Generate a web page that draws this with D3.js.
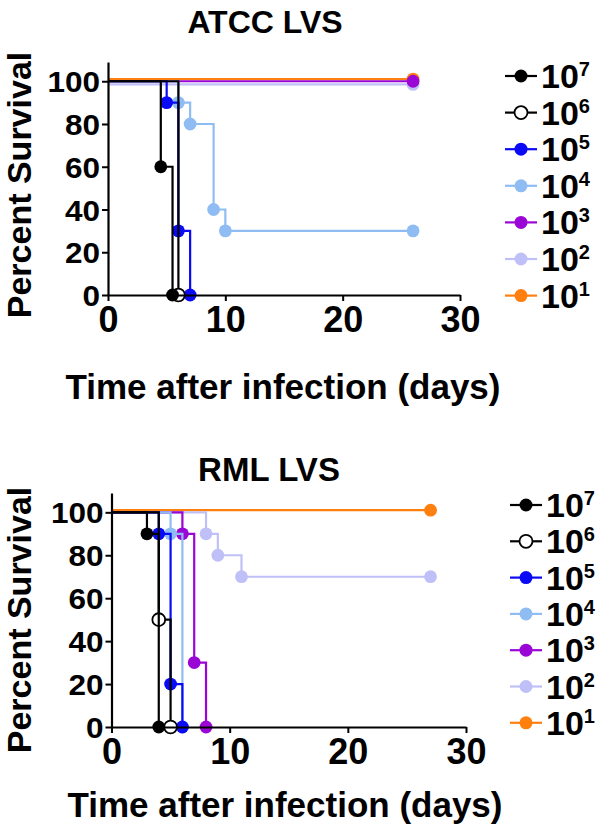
<!DOCTYPE html>
<html>
<head>
<meta charset="utf-8">
<script src="https://cdn.jsdelivr.net/npm/d3@7"></script>
<style>
  html, body { margin: 0; padding: 0; background: #fff; }
  svg { display: block; }
  text { font-family: "Liberation Sans", Arial, Helvetica, sans-serif; font-weight: bold; fill: #000; }
</style>
</head>
<body>
<svg id="chart" width="600" height="830"></svg>
<script>
// ---- Data ----
const doseExponents = ["7", "6", "5", "4", "3", "2", "1"];
const seriesColors = ["#000000", "#000000", "#0a0af5", "#8fbdf3", "#9a06d6", "#c0c0f8", "#ff7f0f"];
const seriesOpen = [false, true, false, false, false, false, false];

const xTicks = [0, 10, 20, 30];
const yTicks = [0, 20, 40, 60, 80, 100];

// ATCC LVS: [day, percent survival] steps
const atcc7 = [[0, 100], [4.5, 60], [5.5, 0]];
const atcc6 = [[0, 100], [6, 0]];
const atcc5 = [[0, 100], [5, 90], [6, 30], [7, 0]];
const atcc4 = [[0, 100], [6, 90], [7, 80], [9, 40], [10, 30], [26, 30]];
const atcc3 = [[0, 100], [26, 100]];
const atcc2 = [[0, 98.5], [26, 98.5]];
const atcc1 = [[0, 101], [26, 101]];

// RML LVS
const rml7 = [[0, 100], [3, 90], [4, 0]];
const rml6 = [[0, 100], [4, 50], [5, 0]];
const rml5 = [[0, 100], [4, 90], [5, 20], [6, 0]];
const rml4 = [[0, 100], [5, 90], [6, 0]];
const rml3 = [[0, 100], [6, 90], [7, 30], [8, 0]];
const rml2 = [[0, 100], [8, 90], [9, 80], [11, 70], [27, 70]];
const rml1 = [[0, 101], [27, 101]];

const atccSeries = [atcc7, atcc6, atcc5, atcc4, atcc3, atcc2, atcc1];
const rmlSeries = [rml7, rml6, rml5, rml4, rml3, rml2, rml1];

const svg = d3.select("#chart");

function drawPanel(cfg) {
  const g = svg.append("g");
  const x = d3.scaleLinear().domain([0, 30]).range([cfg.x0, cfg.x1]);
  const y = d3.scaleLinear().domain([0, 109]).range([cfg.yBottom, cfg.yTop]);

  // title
  g.append("text").attr("x", cfg.titleX).attr("y", cfg.titleY)
    .attr("text-anchor", "middle").style("font-size", cfg.titleSize + "px").text(cfg.title);

  // series (reverse order so 10^7 is on top)
  const line = d3.line().x(d => x(d[0])).y(d => y(d[1])).curve(d3.curveStepAfter);
  for (let i = cfg.series.length - 1; i >= 0; i--) {
    const s = cfg.series[i];
    g.append("path").attr("d", line(s)).attr("fill", "none")
      .attr("stroke", seriesColors[i]).attr("stroke-width", 2.2);
    g.selectAll(null).data(s.slice(1)).enter().append("circle")
      .attr("cx", d => x(d[0])).attr("cy", d => y(d[1])).attr("r", 6.4)
      .attr("fill", seriesOpen[i] ? "#fff" : seriesColors[i])
      .attr("stroke", seriesColors[i]).attr("stroke-width", seriesOpen[i] ? 1.8 : 0);
  }

  // axes
  const xAxis = g.append("g").attr("transform", `translate(0,${cfg.yBottom})`)
    .call(d3.axisBottom(x).tickValues(xTicks).tickSize(6).tickSizeOuter(0).tickPadding(5));
  xAxis.select(".domain").attr("stroke-width", 2.2);
  xAxis.selectAll(".tick line").attr("stroke-width", 2);
  xAxis.selectAll("text").style("font-size", "36px").attr("font-family", null);

  const yAxis = g.append("g").attr("transform", `translate(${cfg.x0},0)`)
    .call(d3.axisLeft(y).tickValues(yTicks).tickSize(6).tickSizeOuter(0).tickPadding(2));
  yAxis.select(".domain").attr("stroke-width", 2.2);
  yAxis.selectAll(".tick line").attr("stroke-width", 2);
  yAxis.selectAll("text").style("font-size", "30px").attr("x", null).attr("font-family", null)
    .attr("transform", "translate(-8,1) scale(1.05,1)");

  // axis titles
  g.append("text").attr("x", cfg.xTitleX).attr("y", cfg.xTitleY)
    .attr("text-anchor", "middle").style("font-size", "35px").text("Time after infection (days)");
  g.append("text").attr("transform", `translate(${cfg.yTitleX},${cfg.yTitleY}) rotate(-90)`)
    .attr("text-anchor", "middle").style("font-size", "34px").text("Percent Survival");

  // legend
  doseExponents.forEach((e, i) => {
    const cy = cfg.legY + i * cfg.legStep;
    const lg = g.append("g");
    lg.append("line").attr("x1", cfg.legX).attr("x2", cfg.legX + 32)
      .attr("y1", cy).attr("y2", cy).attr("stroke", seriesColors[i]).attr("stroke-width", 2.2);
    lg.append("circle").attr("cx", cfg.legX + 16).attr("cy", cy).attr("r", 6.5)
      .attr("fill", seriesOpen[i] ? "#fff" : seriesColors[i])
      .attr("stroke", seriesColors[i]).attr("stroke-width", seriesOpen[i] ? 1.8 : 0);
    const t = lg.append("text").attr("x", cfg.legX + 36).attr("y", cy + 12).style("font-size", "34px");
    t.append("tspan").text("10");
    t.append("tspan").attr("dy", -12).style("font-size", "20px").text(e);
  });
}

drawPanel({
  series: atccSeries, title: "ATCC LVS", titleX: 265, titleY: 33, titleSize: 32,
  x0: 108, x1: 460, yBottom: 295, yTop: 62,
  xTitleX: 283, xTitleY: 399, yTitleX: 31, yTitleY: 185,
  legX: 505, legY: 76, legStep: 36.6
});

drawPanel({
  series: rmlSeries, title: "RML LVS", titleX: 269, titleY: 481, titleSize: 33,
  x0: 111.5, x1: 466, yBottom: 727, yTop: 493,
  xTitleX: 285, xTitleY: 817, yTitleX: 31, yTitleY: 620,
  legX: 510, legY: 505, legStep: 36.3
});
</script>
</body>
</html>
